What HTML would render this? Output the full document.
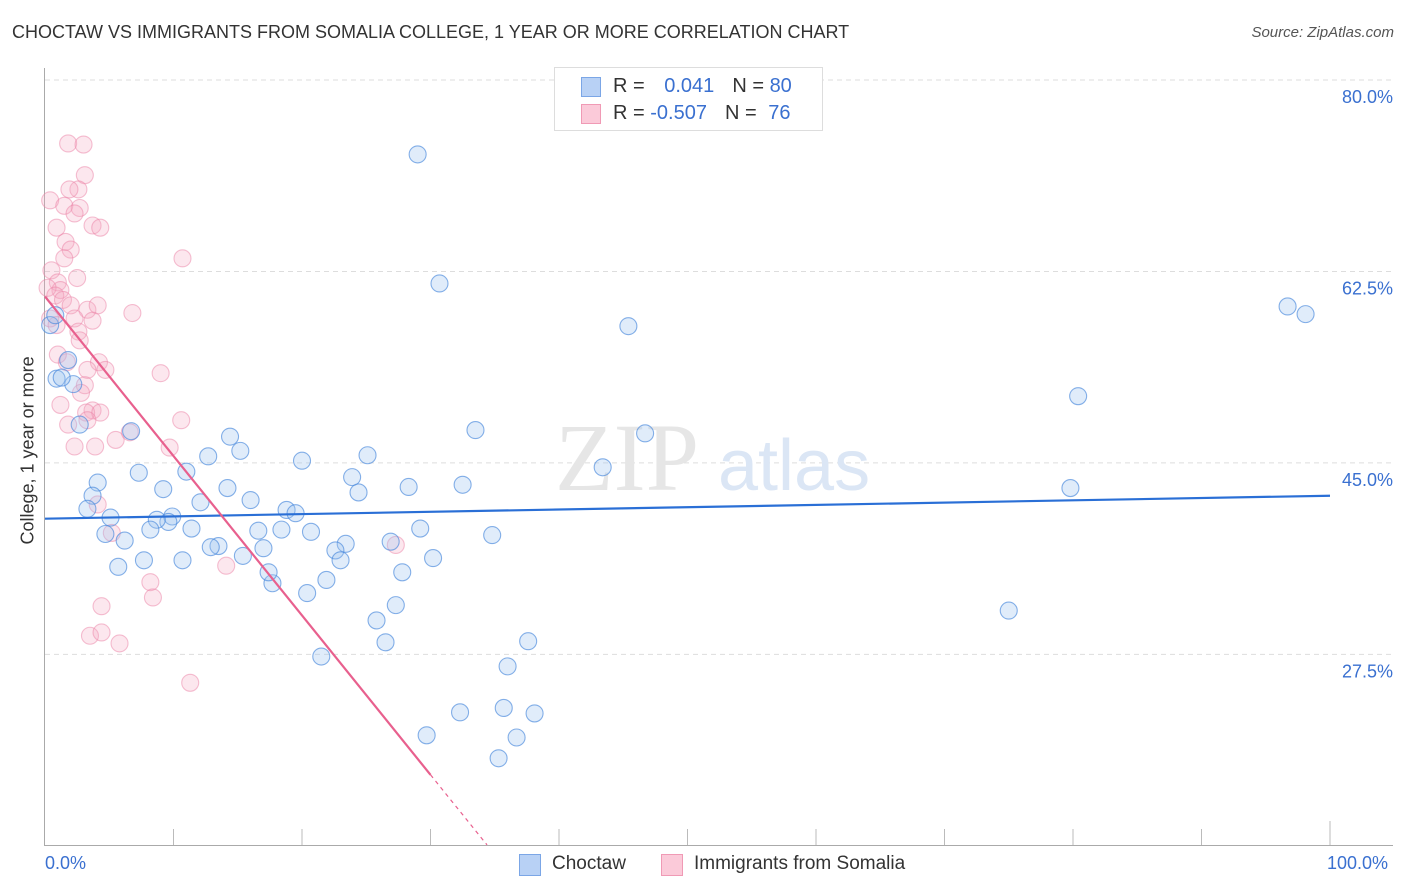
<!DOCTYPE html>
<html><head><meta charset="utf-8"><style>
body{margin:0;background:#fff;font-family:"Liberation Sans",sans-serif;}
#wrap{position:relative;width:1406px;height:892px;overflow:hidden;}
.t{position:absolute;white-space:nowrap;}
</style></head><body><div id="wrap">
<div class="t" style="left:12px;top:22px;font-size:18px;color:#333;">CHOCTAW VS IMMIGRANTS FROM SOMALIA COLLEGE, 1 YEAR OR MORE CORRELATION CHART</div>
<div class="t" style="right:12px;top:24px;font-size:15px;color:#555;font-style:italic;">Source: ZipAtlas.com</div>
<svg id="svg" width="1406" height="892" style="position:absolute;left:0;top:0"></svg>
</div>
<script>
const yTicks=[80,62.5,45,27.5];
const yTickLabels=["80.0%","62.5%","45.0%","27.5%"];
const choctawX=[29.0,30.7,45.4,96.7,98.1,80.4,79.8,75.0,46.7,43.4,33.5,32.5,34.8,30.2,29.2,28.3,26.9,27.8,27.3,25.8,26.5,37.6,36.0,35.7,32.3,38.1,36.7,29.7,35.3,25.1,23.9,24.4,23.4,22.6,23.0,21.9,21.5,20.0,18.8,19.5,20.7,18.4,20.4,17.7,17.4,17.0,16.6,16.0,15.4,14.4,15.2,14.2,12.7,13.5,12.9,11.0,12.1,11.4,10.7,9.9,9.6,8.7,8.2,9.2,7.3,6.7,7.7,6.2,5.7,5.1,4.7,4.1,3.7,3.3,2.7,2.2,1.8,0.9,1.3,0.4,0.8];
const choctawY=[73.2,61.4,57.5,59.3,58.6,51.1,42.7,31.5,47.7,44.6,48.0,43.0,38.4,36.3,39.0,42.8,37.8,35.0,32.0,30.6,28.6,28.7,26.4,22.6,22.2,22.1,19.9,20.1,18.0,45.7,43.7,42.3,37.6,37.0,36.1,34.3,27.3,45.2,40.7,40.4,38.7,38.9,33.1,34.0,35.0,37.2,38.8,41.6,36.5,47.4,46.1,42.7,45.6,37.4,37.3,44.2,41.4,39.0,36.1,40.1,39.6,39.8,38.9,42.6,44.1,47.9,36.1,37.9,35.5,40.0,38.5,43.2,42.0,40.8,48.5,52.2,54.4,52.7,52.8,57.6,58.5];
const somaliaX=[1.8,3.0,3.1,2.6,1.9,0.4,1.5,2.7,2.3,3.7,4.3,0.9,1.6,2.0,1.5,10.7,2.5,0.5,1.0,1.2,0.2,0.8,1.4,2.0,3.3,4.1,6.8,0.4,2.3,3.7,0.9,2.6,2.7,1.0,1.7,4.2,4.7,3.3,9.0,3.1,2.8,1.2,3.7,3.2,4.3,3.3,1.8,10.6,6.6,5.5,2.3,3.9,9.7,4.1,5.2,27.3,14.1,8.2,8.4,4.4,3.5,4.4,5.8,11.3];
const somaliaY=[74.2,74.1,71.3,70.0,70.0,69.0,68.5,68.3,67.8,66.7,66.5,66.5,65.2,64.5,63.7,63.7,61.9,62.6,61.5,60.8,61.0,60.3,59.9,59.4,59.0,59.4,58.7,58.2,58.2,58.0,57.6,57.0,56.2,54.9,54.2,54.2,53.5,53.5,53.2,52.1,51.4,50.3,49.8,49.6,49.6,48.9,48.5,48.9,47.8,47.1,46.5,46.5,46.4,41.2,38.6,37.5,35.6,34.1,32.7,31.9,29.2,29.5,28.5,24.9];
const choctawTrend=[39.9,42.0];
const somaliaTrend=[60.2,-1.457];

const NS="http://www.w3.org/2000/svg";
const svg=document.getElementById('svg');
const X=v=>45+v*12.85;
const Y=v=>80+(80-v)*10.94;
function mk(tag,attrs,parent){const e=document.createElementNS(NS,tag);for(const k in attrs)e.setAttribute(k,attrs[k]);(parent||svg).appendChild(e);return e;}
yTicks.forEach((v,i)=>{
 const g=mk('line',{x1:45,x2:1393,y1:Y(v),y2:Y(v),stroke:'#ddd','stroke-dasharray':'5,4'});
 
 
 const t=mk('text',{x:1393,y:Y(v)+23,'text-anchor':'end','font-size':18,fill:'#3a70d0'});
 t.textContent=yTickLabels[i];
 
 
});
const ya=mk('line',{x1:44.5,x2:44.5,y1:68,y2:845,stroke:'#aaa'});


const xa=mk('line',{x1:44,x2:1393,y1:845.5,y2:845.5,stroke:'#aaa'});


for(let i=1;i<=10;i++){const tk=mk('line',{x1:X(i*10),x2:X(i*10),y1:i==10?821:829,y2:845,stroke:'#bbb'});
 
 }
const wm=mk('text',{x:555,y:490,'font-size':96,fill:'#e6e6e6','font-family':'Liberation Serif'});wm.textContent='ZIP';


const wm2=mk('text',{x:718,y:490,'font-size':72,fill:'#dbe6f5'});wm2.textContent='atlas';


function pts(xs,ys,fill,stroke,name){xs.forEach((x,i)=>{const c=mk('circle',{cx:X(x),cy:Y(ys[i]),r:8.5,fill:fill,stroke:stroke,'stroke-width':1.1});
 
 });}
pts(somaliaX,somaliaY,'rgba(245,170,195,0.28)','rgba(235,130,165,0.5)','somalia-point');
pts(choctawX,choctawY,'rgba(160,195,240,0.32)','rgba(70,135,220,0.65)','choctaw-point');
const bl=mk('line',{x1:X(0),x2:X(100),y1:Y(choctawTrend[0]),y2:Y(choctawTrend[1]),stroke:'#2a6fd6','stroke-width':2.2});


const pl=mk('line',{x1:X(0),x2:X(30),y1:Y(somaliaTrend[0]),y2:Y(somaliaTrend[0]+somaliaTrend[1]*30),stroke:'#e8608e','stroke-width':2.2});


const pd=mk('line',{x1:X(30),x2:X(34.4),y1:Y(somaliaTrend[0]+somaliaTrend[1]*30),y2:Y(somaliaTrend[0]+somaliaTrend[1]*34.4),stroke:'#e8608e','stroke-width':1.2,'stroke-dasharray':'4,4'});


</script>
<div class="t" style="left:-62px;top:444px;width:180px;text-align:center;font-size:18px;color:#333;transform:rotate(-90deg);">College, 1 year or more</div>
<div class="t" style="left:45px;top:853px;font-size:18px;color:#3a70d0;">0.0%</div>
<div class="t" style="left:1327px;top:853px;font-size:18px;color:#3a70d0;">100.0%</div>
<div style="position:absolute;left:554px;top:67px;width:267px;height:62px;border:1px solid #ddd;background:#fff;font-size:20px;">
 <div style="position:absolute;left:26px;top:9px;width:18px;height:18px;background:#b8d1f5;border:1px solid #7ba6e6;"></div>
 <div class="t" style="left:58px;top:7px;color:#333;">R = <span style="color:#3a70d0;margin-left:14px">0.041</span><span style="color:#333;margin-left:18px">N = </span><span style="color:#3a70d0">80</span></div>
 <div style="position:absolute;left:26px;top:36px;width:18px;height:18px;background:#fbcad9;border:1px solid #f09ab5;"></div>
 <div class="t" style="left:58px;top:34px;color:#333;">R = <span style="color:#3a70d0">-0.507</span><span style="color:#333;margin-left:18px">N = </span><span style="color:#3a70d0;margin-left:6px">76</span></div>
</div>
<div style="position:absolute;left:519px;top:852px;font-size:19px;color:#333;">
 <span style="position:absolute;left:0;top:2px;width:20px;height:20px;background:#b8d1f5;border:1px solid #7ba6e6;"></span>
 <span class="t" style="left:33px;top:1px;">Choctaw</span>
 <span style="position:absolute;left:142px;top:2px;width:20px;height:20px;background:#fbcad9;border:1px solid #f09ab5;"></span>
 <span class="t" style="left:175px;top:1px;">Immigrants from Somalia</span>
</div>
</body></html>
